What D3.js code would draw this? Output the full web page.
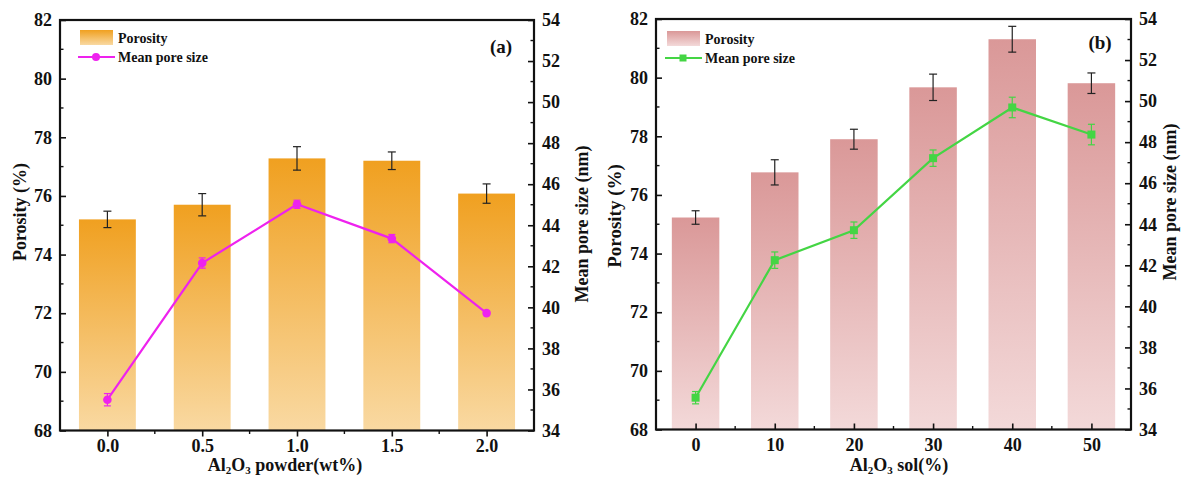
<!DOCTYPE html>
<html><head><meta charset="utf-8">
<script src="https://cdn.jsdelivr.net/npm/d3@7/dist/d3.min.js"></script>
<style>
body{margin:0;background:#fff;}
svg text{font-family:"Liberation Serif","Times New Roman",serif;font-weight:bold;fill:#111;}
</style></head>
<body><svg id="c" width="1181" height="477"></svg>
<script>
// ---- data ----
const leftCats = [0.0, 0.5, 1.0, 1.5, 2.0];
const leftTickLabels = ["0.0", "0.5", "1.0", "1.5", "2.0"];
const leftPorosity = [75.2, 75.7, 77.28, 77.2, 76.08];
const leftPorosityErr = [0.28, 0.38, 0.4, 0.3, 0.33];
const leftPore = [35.5, 42.16, 45.02, 43.35, 39.72];
const leftPoreErr = [0.3, 0.25, 0.2, 0.2, 0.1];

const rightCats = [0, 10, 20, 30, 40, 50];
const rightTickLabels = ["0", "10", "20", "30", "40", "50"];
const rightPorosity = [75.23, 76.77, 77.9, 79.67, 81.31, 79.81];
const rightPorosityErr = [0.23, 0.43, 0.34, 0.45, 0.44, 0.35];
const rightPore = [35.55, 42.25, 43.71, 47.22, 49.69, 48.37];
const rightPoreErr = [0.3, 0.4, 0.4, 0.4, 0.5, 0.5];

const porosityTicks = [68, 70, 72, 74, 76, 78, 80, 82];
const poreTicks = [34, 36, 38, 40, 42, 44, 46, 48, 50, 52, 54];

const svg = d3.select("#c");
const defs = svg.append("defs");

function grad(id, top, bottom) {
  const g = defs.append("linearGradient").attr("id", id)
    .attr("x1", 0).attr("y1", 0).attr("x2", 0).attr("y2", 1);
  g.append("stop").attr("offset", "0%").attr("stop-color", top);
  g.append("stop").attr("offset", "100%").attr("stop-color", bottom);
}
grad("gOrange", "#f0a020", "#f9d9a2");
grad("gPink", "#da9898", "#f3d9d9");

function panel(cfg) {
  const g = svg.append("g");
  const x = d3.scaleLinear().domain(cfg.xDomain).range([cfg.x0, cfg.x1]);
  const yL = d3.scaleLinear().domain([68, 82]).range([cfg.y1, cfg.y0]);
  const yR = d3.scaleLinear().domain([34, 54]).range([cfg.y1, cfg.y0]);
  const bw = x(cfg.barWidth) - x(0);

  // bars
  g.selectAll("rect.bar").data(cfg.cats).enter().append("rect")
    .attr("x", (d) => x(d) - bw / 2)
    .attr("y", (d, i) => yL(cfg.porosity[i]))
    .attr("width", bw)
    .attr("height", (d, i) => yL(68) - yL(cfg.porosity[i]))
    .attr("fill", `url(#${cfg.grad})`);

  // bar error bars
  cfg.cats.forEach((d, i) => {
    const cx = x(d), t = yL(cfg.porosity[i] + cfg.porosityErr[i]), b = yL(cfg.porosity[i] - cfg.porosityErr[i]);
    g.append("line").attr("x1", cx).attr("x2", cx).attr("y1", t).attr("y2", b).attr("stroke", "#222").attr("stroke-width", 1.2);
    [t, b].forEach(yy => g.append("line").attr("x1", cx - 4).attr("x2", cx + 4).attr("y1", yy).attr("y2", yy).attr("stroke", "#222").attr("stroke-width", 1.2));
  });

  // line
  const line = d3.line().x((d, i) => x(cfg.cats[i])).y((d) => yR(d));
  g.append("path").datum(cfg.pore).attr("d", line).attr("fill", "none")
    .attr("stroke", cfg.lineColor).attr("stroke-width", 2.2);
  cfg.cats.forEach((d, i) => {
    const cx = x(d), t = yR(cfg.pore[i] + cfg.poreErr[i]), b = yR(cfg.pore[i] - cfg.poreErr[i]);
    g.append("line").attr("x1", cx).attr("x2", cx).attr("y1", t).attr("y2", b).attr("stroke", cfg.lineColor).attr("stroke-width", 1.2);
    [t, b].forEach(yy => g.append("line").attr("x1", cx - 3.5).attr("x2", cx + 3.5).attr("y1", yy).attr("y2", yy).attr("stroke", cfg.lineColor).attr("stroke-width", 1.2));
  });
  if (cfg.marker === "circle") {
    g.selectAll("circle.m").data(cfg.pore).enter().append("circle")
      .attr("cx", (d, i) => x(cfg.cats[i])).attr("cy", (d) => yR(d)).attr("r", 4.3).attr("fill", cfg.lineColor);
  } else {
    g.selectAll("rect.m").data(cfg.pore).enter().append("rect")
      .attr("x", (d, i) => x(cfg.cats[i]) - 4).attr("y", (d) => yR(d) - 4).attr("width", 8).attr("height", 8).attr("fill", cfg.lineColor);
  }

  // axes
  const fs = "18px";
  const axL = d3.axisLeft(yL).tickValues(porosityTicks).tickSize(-6).tickPadding(8).tickFormat(d3.format("d"));
  const gl = g.append("g").attr("transform", `translate(${cfg.x0},0)`).call(axL);
  const axR = d3.axisRight(yR).tickValues(poreTicks).tickSize(-6).tickPadding(8).tickFormat(d3.format("d"));
  const gr = g.append("g").attr("transform", `translate(${cfg.x1},0)`).call(axR);
  const axB = d3.axisBottom(x).tickValues(cfg.cats).tickSize(cfg.xTickIn ? -6 : 6).tickPadding(cfg.xTickIn ? 9 : 3)
    .tickFormat((d, i) => cfg.tickLabels[i]);
  const gb = g.append("g").attr("transform", `translate(0,${cfg.y1})`).call(axB);
  [gl, gr, gb].forEach(a => {
    a.select(".domain").remove();
    a.selectAll("line").attr("stroke", "#111").attr("stroke-width", 1.6);
    a.selectAll("text").style("font-size", fs).style("font-family", "Liberation Serif").style("font-weight", "bold").attr("fill", "#111");
  });
  // minor ticks
  d3.range(69, 82, 2).forEach(v => g.append("line").attr("x1", cfg.x0).attr("x2", cfg.x0 + 3.5).attr("y1", yL(v)).attr("y2", yL(v)).attr("stroke", "#111").attr("stroke-width", 1.4));
  d3.range(35, 54, 2).forEach(v => g.append("line").attr("x1", cfg.x1).attr("x2", cfg.x1 - 3.5).attr("y1", yR(v)).attr("y2", yR(v)).attr("stroke", "#111").attr("stroke-width", 1.4));
  cfg.cats.slice(0, -1).forEach((d, i) => {
    const m = (d + cfg.cats[i + 1]) / 2;
    g.append("line").attr("x1", x(m)).attr("x2", x(m)).attr("y1", cfg.y1).attr("y2", cfg.y1 + (cfg.xTickIn ? -3.5 : 3.5)).attr("stroke", "#111").attr("stroke-width", 1.4);
  });

  // frame
  g.append("rect").attr("x", cfg.x0).attr("y", cfg.y0).attr("width", cfg.x1 - cfg.x0).attr("height", cfg.y1 - cfg.y0)
    .attr("fill", "none").attr("stroke", "#111").attr("stroke-width", 2.2);

  // axis titles
  g.append("text").attr("transform", `translate(${cfg.ltx},${cfg.lty}) rotate(-90)`).attr("text-anchor", "middle")
    .attr("dominant-baseline", "central").style("font-size", cfg.ltfs).text("Porosity (%)");
  g.append("text").attr("transform", `translate(${cfg.rtx},${cfg.rty}) rotate(-90)`).attr("text-anchor", "middle")
    .attr("dominant-baseline", "central").style("font-size", "18px").text("Mean pore size (nm)");
  const xt = g.append("text").attr("x", cfg.xtx).attr("y", 471).attr("text-anchor", "middle").style("font-size", "18px");
  xt.append("tspan").text("Al");
  xt.append("tspan").text("2").style("font-size", "11px").attr("dy", 3);
  xt.append("tspan").text("O").attr("dy", -3);
  xt.append("tspan").text("3").style("font-size", "11px").attr("dy", 3);
  xt.append("tspan").text(cfg.xSuffix).attr("dy", -3);

  // panel label
  g.append("text").attr("x", cfg.labX).attr("y", cfg.labY).attr("text-anchor", "middle").style("font-size", "19px").text(cfg.label);

  // legend
  const lx = cfg.legX, ly = cfg.legY;
  g.append("rect").attr("x", lx).attr("y", ly).attr("width", 33).attr("height", 15).attr("fill", `url(#${cfg.grad})`);
  g.append("text").attr("x", lx + 38).attr("y", ly + 8).attr("dominant-baseline", "central").style("font-size", "14px").text("Porosity");
  g.append("line").attr("x1", lx - 2).attr("x2", lx + 35).attr("y1", ly + 27).attr("y2", ly + 27).attr("stroke", cfg.lineColor).attr("stroke-width", 2);
  if (cfg.marker === "circle") g.append("circle").attr("cx", lx + 16).attr("cy", ly + 27).attr("r", 4).attr("fill", cfg.lineColor);
  else g.append("rect").attr("x", lx + 12.5).attr("y", ly + 23.5).attr("width", 7).attr("height", 7).attr("fill", cfg.lineColor);
  g.append("text").attr("x", lx + 38).attr("y", ly + 27).attr("dominant-baseline", "central").style("font-size", "14px").text("Mean pore size");
}

panel({
  cats: leftCats, tickLabels: leftTickLabels, porosity: leftPorosity, porosityErr: leftPorosityErr,
  pore: leftPore, poreErr: leftPoreErr, xDomain: [-0.25, 2.25], barWidth: 0.3,
  x0: 60, x1: 534, y0: 20, y1: 430.5, grad: "gOrange", lineColor: "#ee22ee", marker: "circle",
  xTickIn: false, ltx: 20, lty: 212, ltfs: "18px", rtx: 582, rty: 224, xtx: 285, xSuffix: " powder(wt%)",
  label: "(a)", labX: 501, labY: 53, legX: 80, legY: 30
});
panel({
  cats: rightCats, tickLabels: rightTickLabels, porosity: rightPorosity, porosityErr: rightPorosityErr,
  pore: rightPore, poreErr: rightPoreErr, xDomain: [-5, 55], barWidth: 6,
  x0: 656, x1: 1131, y0: 19, y1: 429.5, grad: "gPink", lineColor: "#44d544", marker: "square",
  xTickIn: true, ltx: 614, lty: 216, ltfs: "19px", rtx: 1170, rty: 202, xtx: 899, xSuffix: " sol(%)",
  label: "(b)", labX: 1100, labY: 49, legX: 667, legY: 31
});
</script></body></html>
